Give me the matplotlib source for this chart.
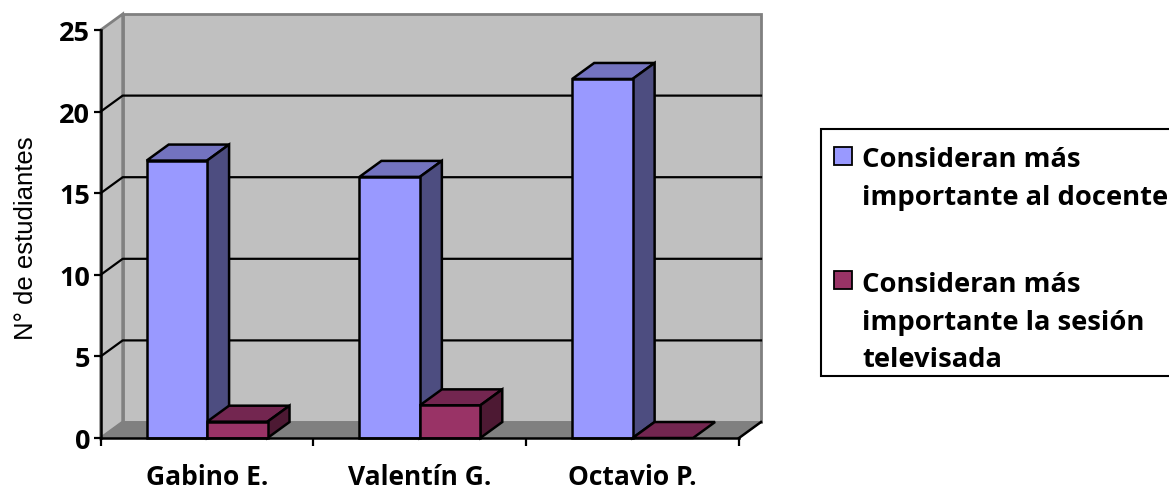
import matplotlib
matplotlib.use('Agg')
import matplotlib.pyplot as plt
from matplotlib.patches import Polygon, Rectangle

W, H = 1169, 489

# data
profesores = ['Gabino E.', 'Valentín G.', 'Octavio P.']
docente = [17, 16, 22]
sesion = [1, 2, 0]
y_ticks = [0, 5, 10, 15, 20, 25]
legend_docente = 'Consideran más\nimportante al docente'
legend_sesion = 'Consideran más\nimportante la sesión\ntelevisada'
y_title = 'N° de estudiantes'

# 3d look, in data units
DX = 0.1034
DY = 0.98
GAP = 0.216
BAR_W = 0.284

fig = plt.figure(figsize=(W / 100, H / 100), dpi=100)
ax = fig.add_axes([100.7 / W, 1 - 439 / H, (739 - 100.7) / W, 408 / H])
ax.set_xlim(0, len(profesores))
ax.set_ylim(0, 25)
ax.patch.set_visible(False)


def poly(pts, fc, ec='black', lw=1.8, z=2):
    ax.add_patch(Polygon(pts, closed=True, facecolor=fc, edgecolor=ec, linewidth=lw,
                         zorder=z, clip_on=False, joinstyle='miter'))


def bar3d(x, w, v, front, top, side, z):
    poly([(x, v), (x + DX, v + DY), (x + w + DX, v + DY), (x + w, v)], top, z=z)
    if v > 0:
        poly([(x + w, 0), (x + w + DX, DY), (x + w + DX, v + DY), (x + w, v)], side, z=z)
        poly([(x, 0), (x + w, 0), (x + w, v), (x, v)], front, z=z)


n = len(profesores)
ymax = y_ticks[-1]

# walls and floor
poly([(DX, DY), (n + DX, DY), (n + DX, ymax + DY), (DX, ymax + DY)], '#C0C0C0', ec='#808080', lw=2, z=1)
poly([(0, 0), (DX, DY), (DX, ymax + DY), (0, ymax)], '#C0C0C0', ec='#808080', lw=2, z=1)
poly([(0, 0), (n, 0), (n + DX, DY), (DX, DY)], '#808080', ec='#808080', lw=1, z=1)
ax.plot([n, n + DX], [0, DY], color='black', lw=1.8, zorder=1.5, clip_on=False)

# gridlines
for v in y_ticks[1:-1]:
    ax.plot([0, DX, n + DX], [v, v + DY, v + DY], color='black', lw=1.6, zorder=1.5, clip_on=False)

# bars
z = 3
for i in range(n):
    bar3d(i + GAP, BAR_W, docente[i], '#9999FF', '#7373BF', '#4D4D80', z)
    bar3d(i + GAP + BAR_W, BAR_W, sesion[i], '#993366', '#732650', '#4D1933', z + 1)
    z += 2

# axes
for s in ['top', 'right']:
    ax.spines[s].set_visible(False)
for s in ['left', 'bottom']:
    ax.spines[s].set_linewidth(1.8)
    ax.spines[s].set_zorder(20)
ax.set_yticks(y_ticks)
ax.set_yticklabels([str(v) for v in y_ticks], fontfamily='Open Sans', fontweight='bold', fontsize=19.5)
ax.set_xticks(range(n + 1))
ax.set_xticklabels([])
ax.set_xticks([i + 0.5 for i in range(n)], minor=True)
ax.set_xticklabels(profesores, minor=True, fontfamily='Open Sans', fontweight='bold', fontsize=19)
ax.tick_params(axis='y', length=5, width=1.6, pad=2.5)
ax.tick_params(axis='x', which='major', length=6, width=1.6)
ax.tick_params(axis='x', which='minor', length=0, pad=18)
ax.set_ylabel(y_title, fontfamily='Liberation Sans', fontsize=18.5, y=0.493, labelpad=15)

# legend, drawn by hand: the box runs off the right edge
lg = fig.add_axes([0, 0, 1, 1])
lg.set_xlim(0, W)
lg.set_ylim(H, 0)
lg.axis('off')
lg.add_patch(Rectangle((821, 129.5), 360, 247, facecolor='white', edgecolor='black', linewidth=1.5))
lg.add_patch(Rectangle((833.5, 148), 18, 18, facecolor='#9999FF', edgecolor='black', linewidth=1.3))
lg.add_patch(Rectangle((833.5, 271.5), 18, 18, facecolor='#993366', edgecolor='black', linewidth=1.3))
lg.text(862, 147, legend_docente, fontfamily='Open Sans', fontweight='bold', fontsize=19.7,
        va='top', ha='left', linespacing=1.58, clip_on=False)
lg.text(862, 272.5, legend_sesion, fontfamily='Open Sans', fontweight='bold', fontsize=19.7,
        va='top', ha='left', linespacing=1.56, clip_on=False)

fig.savefig('out.png', dpi=100)
